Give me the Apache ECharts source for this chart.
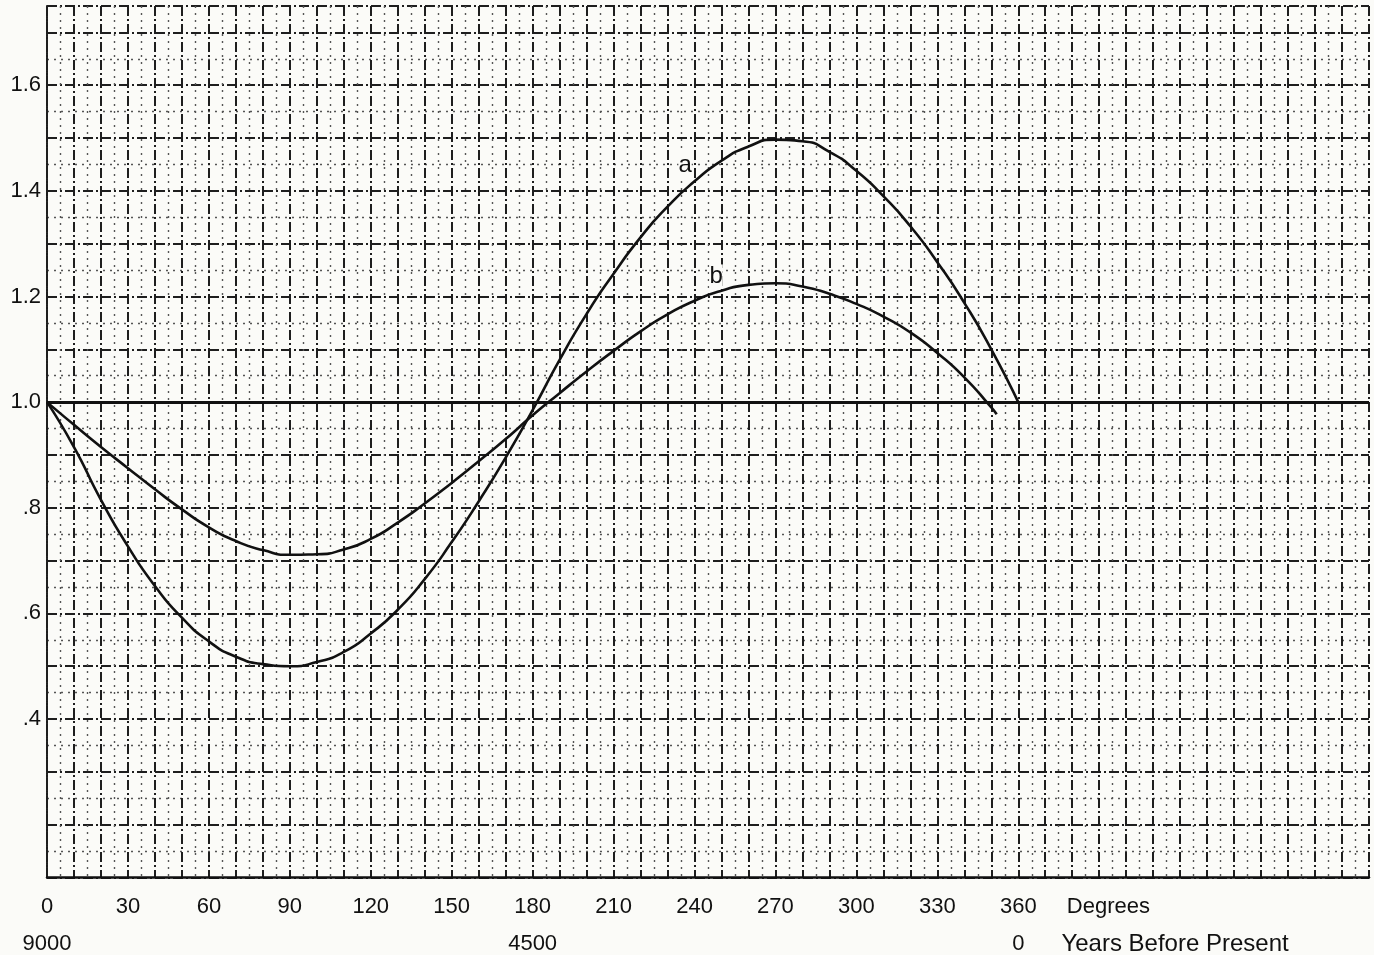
<!DOCTYPE html>
<html>
<head>
<meta charset="utf-8">
<script src="https://cdn.jsdelivr.net/npm/echarts@6/dist/echarts.min.js"></script>
<style>
html,body{margin:0;padding:0;background:#fbfbf8;}
#chart{width:1374px;height:955px;}
</style>
</head>
<body>
<div id="chart"></div>
<script>
// ---- data ----
const degreesA = [0,10,20,30,40,50,60,70,80,90,100,110,120,130,140,150,160,170,180,190,200,210,220,230,240,250,260,270,280,290,300,310,320,330,340,350,360];
const curveA   = [1.00,0.915,0.815,0.727,0.652,0.592,0.547,0.518,0.504,0.50,0.508,0.527,0.562,0.607,0.665,0.735,0.812,0.895,0.985,1.08,1.167,1.243,1.312,1.37,1.418,1.457,1.484,1.497,1.494,1.474,1.438,1.39,1.333,1.265,1.188,1.10,1.00];
const degreesB = [0,10,20,30,40,50,60,70,80,90,100,110,120,130,140,150,160,170,180,190,200,210,220,230,240,250,260,270,280,290,300,310,320,330,340,350,352];
const curveB   = [1.00,0.957,0.915,0.875,0.835,0.797,0.763,0.737,0.72,0.711,0.712,0.721,0.741,0.772,0.808,0.847,0.888,0.93,0.975,1.017,1.058,1.097,1.134,1.166,1.192,1.211,1.222,1.225,1.219,1.205,1.186,1.162,1.132,1.093,1.047,0.99,0.977];
const degreeTicks = [0,30,60,90,120,150,180,210,240,270,300,330,360];
const yearTicks = [0,180,360];
const yearLabels = ['9000','4500','0'];
const yTickValues = [0.4,0.6,0.8,1.0,1.2,1.4,1.6];
const yTickLabels = ['.4','.6','.8','1.0','1.2','1.4','1.6'];
const baselineValue = 1.0;
const curveNames = ['a','b'];
const curveNameAnchors = [[236.5,1.449],[248,1.238]];
const unitTexts = ['Degrees','Years Before Present'];
const unitAnchorDeg = [378,376];

const FONT = '"Liberation Sans", Arial, sans-serif';
const INK = '#111';

const chart = echarts.init(document.getElementById('chart'));
const pairs = (xs, ys) => xs.map((x,i)=>[x, ys[i]]);

const majorStyle = {color:'#1e1e1e', width:2, type:[10,3,2,3]};
const minorStyle = {color:'#555', width:1.4, type:[2,5]};

chart.setOption({
  backgroundColor:'#fbfbf8',
  animation:false,
  grid:{left:47, right:5, top:6, bottom:72, containLabel:false},
  xAxis:{
    type:'value', min:0, max:490, interval:10,
    axisLine:{show:true, onZero:false, lineStyle:{color:'#111', width:2.5}},
    axisTick:{show:false},
    splitLine:{show:true, lineStyle:majorStyle},
    minorTick:{show:false, splitNumber:2},
    minorSplitLine:{show:true, lineStyle:minorStyle},
    axisLabel:{
      show:true, margin:11, color:INK, fontFamily:FONT, fontSize:22,
      showMaxLabel:false,
      formatter:function(v){
        const r = Math.round(v);
        if (degreeTicks.indexOf(r) < 0) return '';
        let s = '{d|' + r + '}';
        const yi = yearTicks.indexOf(r);
        if (yi >= 0) s += '\n{y|' + yearLabels[yi] + '}';
        return s;
      },
      rich:{
        d:{fontFamily:FONT, fontSize:22, color:INK, lineHeight:37},
        y:{fontFamily:FONT, fontSize:22, color:INK, lineHeight:37}
      }
    }
  },
  yAxis:{
    type:'value', min:0.1, max:1.75, interval:0.1,
    axisLine:{show:true, lineStyle:majorStyle},
    axisTick:{show:false},
    splitLine:{show:true, lineStyle:majorStyle},
    minorTick:{show:false, splitNumber:2},
    minorSplitLine:{show:true, lineStyle:minorStyle},
    axisLabel:{
      show:true, margin:6, color:INK, fontFamily:FONT, fontSize:22,
      showMaxLabel:false, showMinLabel:false,
      formatter:function(v){
        for (let i=0;i<yTickValues.length;i++){
          if (Math.abs(v - yTickValues[i]) < 1e-6) return yTickLabels[i];
        }
        return '';
      }
    }
  },
  series:[
    {
      name:curveNames[0], type:'line', data:pairs(degreesA, curveA), smooth:0.6,
      showSymbol:false, lineStyle:{color:'#111', width:2.6},
      markLine:{
        silent:true, symbol:['none','none'],
        label:{show:false},
        lineStyle:{color:'#111', width:3, type:'solid'},
        data:[{yAxis:baselineValue}]
      },
      z:5
    },
    {
      name:curveNames[1], type:'line', data:pairs(degreesB, curveB), smooth:0.6,
      showSymbol:false, lineStyle:{color:'#111', width:2.6}, z:5
    }
  ]
});

function addTexts(){
  const els = [];
  curveNames.forEach((n,i)=>{
    const p = chart.convertToPixel({gridIndex:0}, curveNameAnchors[i]);
    els.push({type:'text', x:p[0], y:p[1], style:{text:n, fill:INK, font:'24px ' + FONT, textAlign:'center', textVerticalAlign:'middle', backgroundColor:'#fbfbf8'}, z:10});
  });
  const axisY = chart.convertToPixel({gridIndex:0}, [0,0.1])[1];
  const sizes = [22, 24];
  unitTexts.forEach((t,i)=>{
    const x = chart.convertToPixel({gridIndex:0}, [unitAnchorDeg[i], 1])[0];
    els.push({type:'text', x:x, y:axisY + 11 + 37*i + 18.5, style:{text:t, fill:INK, font:sizes[i] + 'px ' + FONT, textAlign:'left', textVerticalAlign:'middle'}, z:10});
  });
  chart.setOption({graphic:els});
}
addTexts();
</script>
</body>
</html>
